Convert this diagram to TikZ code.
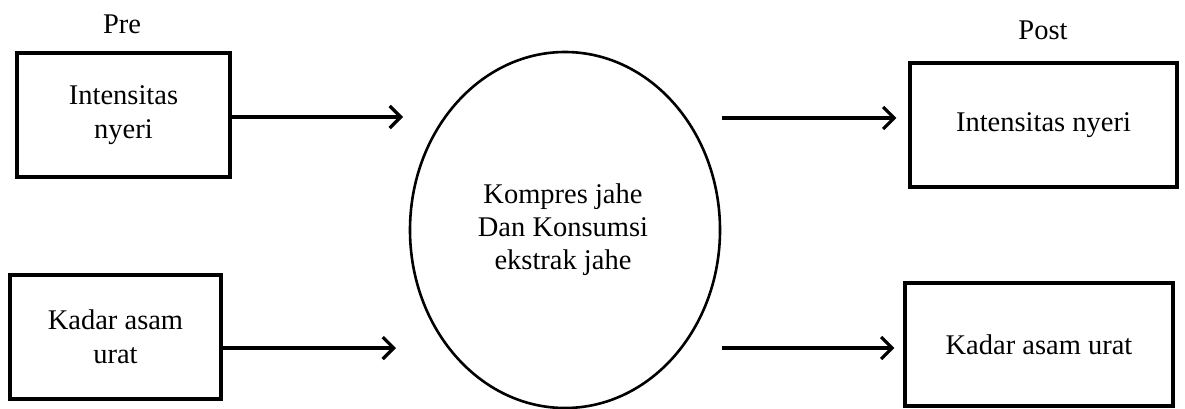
\documentclass[tikz,border=0pt]{standalone}
\usepackage{fontspec}
\setmainfont{Liberation Serif}
\usetikzlibrary{arrows.meta}
\begin{document}
\begin{tikzpicture}[x=1pt,y=-1pt,
  varbox/.style={draw, line width=3.4pt, inner sep=0pt, align=center,
    font=\fontsize{28.5}{34}\selectfont},
  label/.style={inner sep=0pt, font=\fontsize{28.5}{33}\selectfont},
  flow/.style={line width=3.2pt, -{Straight Barb[length=11pt,width=22pt,line width=3.2pt]}}]
  \useasboundingbox (0,0) rectangle (1185,408);

  % pre-test variables
  \node[varbox, minimum width=213pt, minimum height=124pt] (preA) at (123.5,115) {Intensitas\\nyeri};
  \node[varbox, minimum width=211pt, minimum height=124pt] (preB) at (115.5,337) {Kadar asam\\urat};
  \node[label] (pre) at (122,24) {Pre};

  % intervention
  \draw[line width=2.6pt] (565,230) ellipse [x radius=155pt, y radius=178pt];
  \node[label, align=center] (treat) at (563,230) {Kompres jahe\\Dan Konsumsi\\ekstrak jahe};

  % post-test variables
  \node[varbox, minimum width=267pt, minimum height=124pt] (postA) at (1043.5,125) {Intensitas nyeri};
  \node[varbox, minimum width=268pt, minimum height=123pt] (postB) at (1039,344.5) {Kadar asam urat};
  \node[label] (post) at (1043,30) {Post};

  % arrow end points
  \coordinate (inA) at (403,117);
  \coordinate (inB) at (396,348);
  \coordinate (outA) at (722,118);
  \coordinate (outB) at (722,348);

  \draw[flow] (preA.east |- inA) -- (inA);
  \draw[flow] (preB.east |- inB) -- (inB);
  \draw[flow] (outA) -- ([xshift=-12pt]postA.west |- outA);
  \draw[flow] (outB) -- ([xshift=-9pt]postB.west |- outB);
\end{tikzpicture}
\end{document}
